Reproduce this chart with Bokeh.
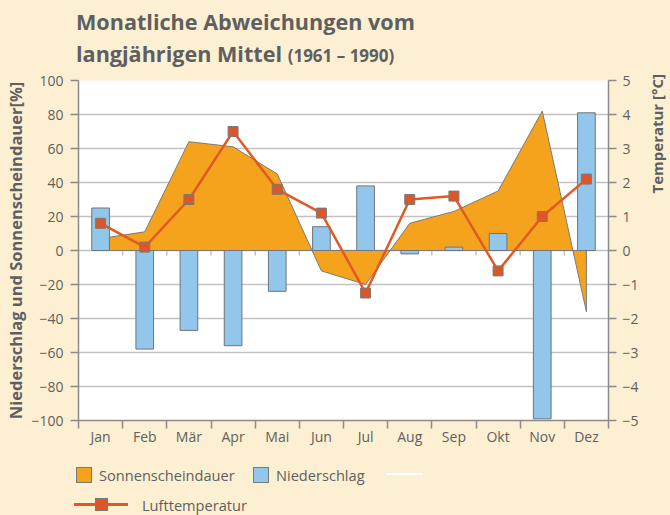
from bokeh.plotting import figure
from bokeh.layouts import column, row
from bokeh.models import Range1d, LinearAxis, FixedTicker, Div
from bokeh.embed import file_html
from bokeh.resources import INLINE

# ---------------- data ----------------
months = ["Jan", "Feb", "Mär", "Apr", "Mai", "Jun", "Jul", "Aug", "Sep", "Okt", "Nov", "Dez"]
sonnenscheindauer = [7, 11, 64, 61, 45, -12, -20, 16, 23, 35, 82, -36]
niederschlag = [25, -58, -47, -56, -24, 14, 38, -2, 2, 10, -99, 81]
lufttemperatur = [0.8, 0.1, 1.5, 3.5, 1.8, 1.1, -1.25, 1.5, 1.6, -0.6, 1.0, 2.1]

left_ticks = [-100, -80, -60, -40, -20, 0, 20, 40, 60, 80, 100]
left_tick_labels = ["−100", "−80", "−60", "−40", "−20", "0", "20", "40", "60", "80", "100"]
right_ticks = [-5, -4, -3, -2, -1, 0, 1, 2, 3, 4, 5]
right_tick_labels = ["−5", "−4", "−3", "−2", "−1", "0", "1", "2", "3", "4", "5"]

title_line1 = "Monatliche Abweichungen vom"
title_line2 = "langjährigen Mittel"
title_years = "(1961 – 1990)"
left_label = "Niederschlag und Sonnenscheindauer[%]"
right_label = "Temperatur [°C]"
legend_labels = ["Sonnenscheindauer", "Niederschlag", "Lufttemperatur"]

# ---------------- styles ----------------
CREAM = "#FDEFD1"
TXT = "#5E5F61"
GRID = "#C2C2C2"
AXIS = "#8A8A8A"
ORANGE = "#F5A31C"
BLUE = "#93C6EB"
RED = "#E05A28"
MARK = "#DB5629"
OUTLINE = "#7A7A7A"
BAR_LINE = "#6E747A"
FONT = "Open Sans"

TOTAL_W, TOTAL_H = 670, 515
SIDE_W = 24
W = TOTAL_W - SIDE_W
TITLE_H = 70
MAIN_H = 386
LEG_H = TOTAL_H - TITLE_H - MAIN_H

xs = list(range(1, len(months) + 1))
boundaries = [i + 0.5 for i in range(0, len(months) + 1)]

# ---------------- title ----------------
title = Div(
    text=(f'<div style="margin:0;padding:6px 0 0 76px;font-family:\'{FONT}\';'
          f'font-weight:bold;color:{TXT};font-size:21.6px;line-height:32px;white-space:nowrap;">'
          f'{title_line1}<br>{title_line2} '
          f'<span style="font-size:17px;">{title_years}</span></div>'),
    width=W, height=TITLE_H, margin=0, styles={"background-color": CREAM})

# ---------------- main plot ----------------
p = figure(width=W, height=MAIN_H, x_range=Range1d(0.5, len(months) + 0.5),
           y_range=Range1d(-100, 100), output_backend="svg", toolbar_location=None,
           min_border_left=78, min_border_right=W - 608, min_border_top=10,
           min_border_bottom=36, background_fill_color="white",
           border_fill_color=CREAM, outline_line_color=None, margin=0)
p.extra_y_ranges = {"temp": Range1d(-5, 5)}

p.xgrid.grid_line_color = None
p.ygrid.ticker = FixedTicker(ticks=left_ticks)
p.ygrid.grid_line_color = GRID
p.ygrid.grid_line_width = 1.5

xa = p.xaxis[0]
xa.ticker = FixedTicker(ticks=xs, minor_ticks=boundaries)
xa.major_label_overrides = {x: m for x, m in zip(xs, months)}
xa.major_tick_out = 0
xa.major_tick_in = 0
xa.minor_tick_out = 8
xa.minor_tick_in = 0
xa.minor_tick_line_color = AXIS
xa.minor_tick_line_width = 1.5
xa.axis_line_color = AXIS
xa.axis_line_width = 1.5
xa.major_label_standoff = -2
xa.major_label_text_font = FONT
xa.major_label_text_font_size = "14px"
xa.major_label_text_color = TXT

ya = p.yaxis[0]
ya.ticker = FixedTicker(ticks=left_ticks, minor_ticks=[])
ya.major_label_overrides = {t: s for t, s in zip(left_ticks, left_tick_labels)}
ya.major_tick_out = 8
ya.major_tick_in = 0
ya.major_tick_line_color = AXIS
ya.major_tick_line_width = 1.5
ya.axis_line_color = AXIS
ya.axis_line_width = 1.5
ya.major_label_standoff = 7
ya.major_label_text_font = FONT
ya.major_label_text_font_size = "14px"
ya.major_label_text_color = TXT
ya.axis_label = left_label
ya.axis_label_text_font = FONT
ya.axis_label_text_font_style = "bold"
ya.axis_label_text_font_size = "16.5px"
ya.axis_label_text_color = TXT
ya.axis_label_standoff = 1

ra = LinearAxis(y_range_name="temp", ticker=FixedTicker(ticks=right_ticks, minor_ticks=[]))
ra.major_label_overrides = {t: s for t, s in zip(right_ticks, right_tick_labels)}
ra.major_tick_out = 8
ra.major_tick_in = 0
ra.major_tick_line_color = AXIS
ra.major_tick_line_width = 1.5
ra.axis_line_color = AXIS
ra.axis_line_width = 1.5
ra.major_label_standoff = 6
ra.major_label_text_font = FONT
ra.major_label_text_font_size = "14px"
ra.major_label_text_color = TXT
p.add_layout(ra, "right")

# small ticks on the zero line
inner_b = boundaries[1:-1]
p.segment(x0=inner_b, y0=[0] * len(inner_b), x1=inner_b, y1=[-3] * len(inner_b),
          line_color=GRID, line_width=1.5)

# area (Sonnenscheindauer)
area_x = xs + xs[::-1]
area_y = sonnenscheindauer + [0] * len(xs)
p.patch(area_x, area_y, fill_color=ORANGE, line_color=OUTLINE, line_width=1)

# bars (Niederschlag)
p.vbar(x=xs, top=niederschlag, bottom=0, width=0.4, fill_color=BLUE,
       line_color=BAR_LINE, line_width=1)

# temperature line
p.line(xs, lufttemperatur, y_range_name="temp", line_color=RED, line_width=2.5)
p.scatter(xs, lufttemperatur, y_range_name="temp", marker="square", size=10,
          fill_color=MARK, line_color=OUTLINE, line_width=1)

# ---------------- legend strip (HTML) ----------------
def box(left, top, w, h, bg, border):
    return (f'<span style="position:absolute;left:{left}px;top:{top}px;width:{w}px;'
            f'height:{h}px;background:{bg};border:{border};box-sizing:border-box;"></span>')


def txt(left, center, s):
    return (f'<span style="position:absolute;left:{left}px;top:{center - 11}px;'
            f'line-height:22px;white-space:nowrap;">{s}</span>')


legend_html = (
    f'<div style="position:relative;width:{W}px;height:{LEG_H}px;font-family:\'{FONT}\';'
    f'font-size:14.6px;color:{TXT};">'
    + box(76, 11, 16, 16, ORANGE, f"1px solid {OUTLINE}")
    + txt(99, 19, legend_labels[0])
    + box(253, 11, 16, 16, BLUE, f"1px solid {OUTLINE}")
    + txt(276, 19, legend_labels[1])
    + box(386, 17, 37, 2, "white", "none")
    + box(74, 47, 54, 3, RED, "none")
    + box(95, 42, 13, 13, MARK, f"1px solid {OUTLINE}")
    + txt(142, 49, legend_labels[2])
    + '</div>'
)
legend = Div(text=legend_html, width=W, height=LEG_H, margin=0,
             styles={"background-color": CREAM})

# ---------------- right axis title strip (HTML, reads bottom to top) ----------------
side_html = (
    f'<div style="position:relative;width:{SIDE_W}px;height:{TOTAL_H}px;">'
    f'<div style="position:absolute;left:1px;top:74px;writing-mode:vertical-rl;'
    f'transform:rotate(180deg);font-family:\'{FONT}\';font-weight:bold;font-size:15px;'
    f'line-height:20px;color:{TXT};white-space:nowrap;">{right_label}</div></div>'
)
side = Div(text=side_html, width=SIDE_W, height=TOTAL_H, margin=0,
           styles={"background-color": CREAM})

layout = row(column(title, p, legend, spacing=0, styles={"background-color": CREAM}),
             side, spacing=0, styles={"background-color": CREAM})
open("out.html", "w").write(file_html(layout, INLINE))
